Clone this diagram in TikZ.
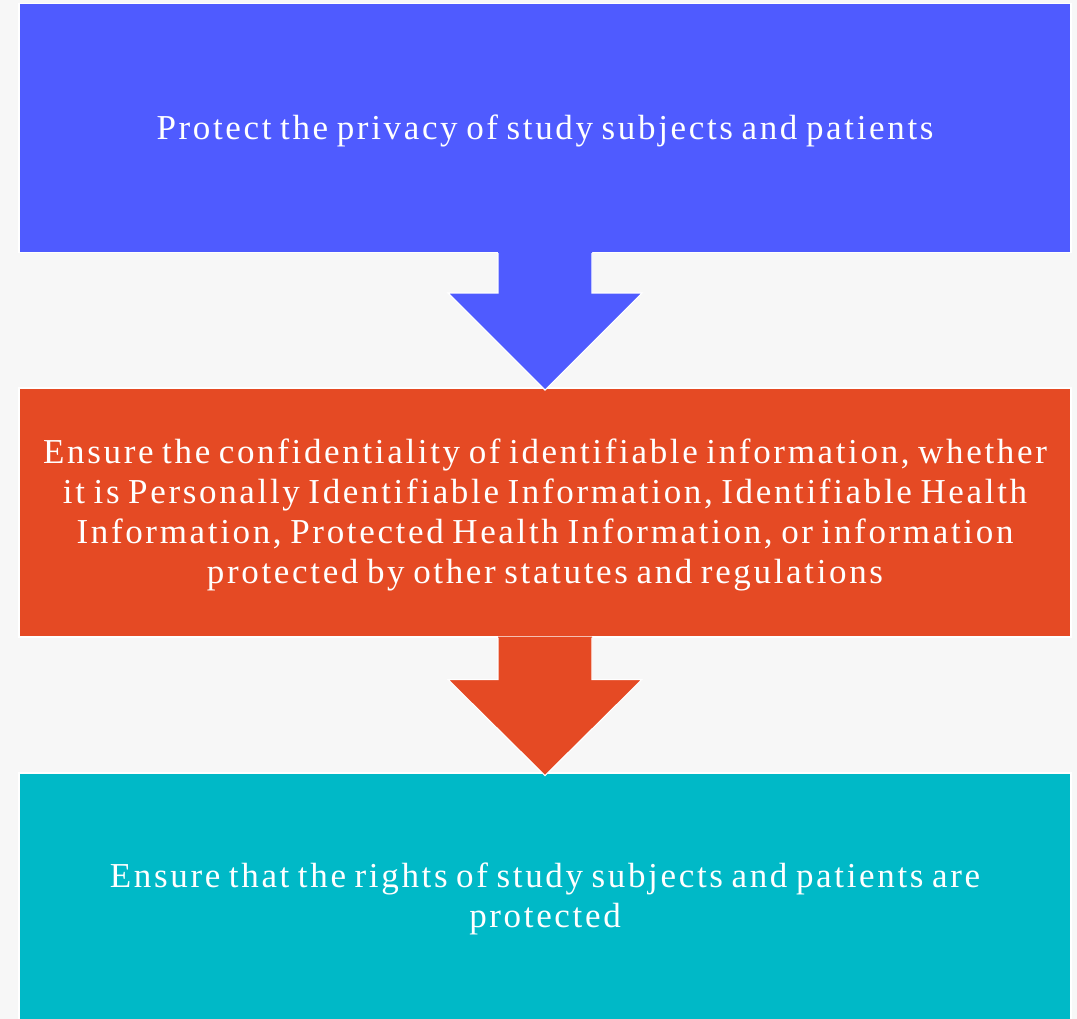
\documentclass[tikz,border=0pt]{standalone}
\usepackage{fontspec}
\setmainfont{Liberation Serif}[LetterSpace=7.6,WordSpace=0.75]
\definecolor{pageback}{HTML}{F7F7F7}
\definecolor{stepblue}{HTML}{4F5BFF}
\definecolor{steporange}{HTML}{E54A24}
\definecolor{stepteal}{HTML}{00B9C7}
\begin{document}
\begin{tikzpicture}[x=1pt,y=-1pt,
  stepbox/.style={rectangle,draw=white,line width=1.2pt,minimum width=1052pt,
    minimum height=249pt,inner sep=0pt,text=white,align=center,
    font=\fontsize{35}{40}\selectfont},
  steptext/.style={text=white,align=center,inner sep=0pt,
    font=\fontsize{35}{40}\selectfont},
  downarrow/.style={draw=white,line width=1.2pt,line join=miter}]
\fill[pageback] (0,0) rectangle (1077,1019);
\useasboundingbox (0,0) rectangle (1077,1019);

% the three step boxes
\node[stepbox,fill=stepblue] (privacy) at (545,128) {};
\node[stepbox,fill=steporange] (confid) at (545,512.5) {};
\node[stepbox,fill=stepteal] (rights) at (545,897.5) {};

% their texts (yshift is measured upwards on the page)
\node[steptext] (privacytext) at ([yshift=-3]privacy.center) {Protect the privacy of study subjects and patients};
\node[steptext] (confidtext) at ([yshift=-2.5]confid.center) {Ensure the confidentiality of identifiable information, whether\\
it is Personally Identifiable Information, Identifiable Health\\
Information, Protected Health Information, or information\\
protected by other statutes and regulations};
\node[steptext] (rightstext) at ([yshift=-1.5]rights.center) {Ensure that the rights of study subjects and patients are\\protected};

% block arrows between the steps
\path[fill=stepblue] (privacy.south) ++(-47,-1) -- ++(0,41) -- ++(-50,0) -- ++(97,97) -- ++(97,-97) -- ++(-50,0) -- ++(0,-41) -- cycle;
\draw[downarrow] (privacy.south) ++(-47,0) -- ++(0,40) -- ++(-50,0) -- ++(97,97) -- ++(97,-97) -- ++(-50,0) -- ++(0,-40);
\path[fill=steporange] (confid.south) ++(-47,-1) -- ++(0,43) -- ++(-50,0) -- ++(97,96) -- ++(97,-96) -- ++(-50,0) -- ++(0,-43) -- cycle;
\draw[downarrow] (confid.south) ++(-47,0) -- ++(0,42) -- ++(-50,0) -- ++(97,96) -- ++(97,-96) -- ++(-50,0) -- ++(0,-42);
\end{tikzpicture}
\end{document}
